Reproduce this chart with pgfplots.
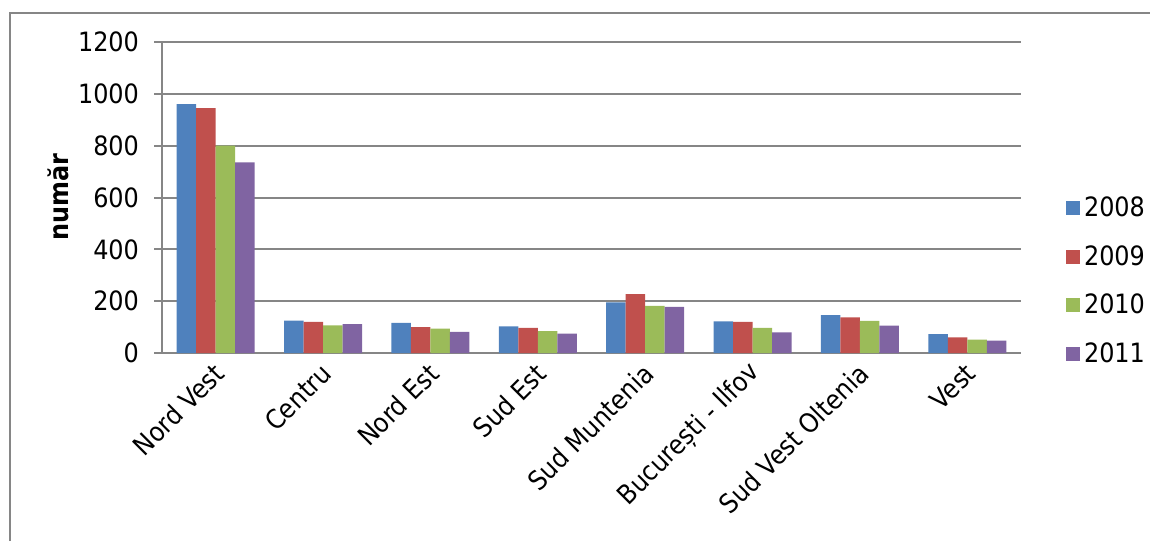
\documentclass[border=0pt]{standalone}
\usepackage{pgfplots}
\pgfplotsset{compat=1.18}
\usepackage{fontspec}
\setmainfont{DejaVu Sans Condensed}
\definecolor{c08}{HTML}{4F81BD}
\definecolor{c09}{HTML}{C0504D}
\definecolor{c10}{HTML}{9BBB59}
\definecolor{c11}{HTML}{8064A2}
\definecolor{gridc}{HTML}{868686}
\begin{document}
\begin{tikzpicture}
\path[use as bounding box] (0,0) rectangle (575pt,270.5pt);
\draw[gridc, line width=1pt] (5pt,0) -- (5pt,264pt) -- (575pt,264pt);
\begin{axis}[
  at={(81pt,94pt)}, anchor=south west,
  scale only axis, width=429.5pt, height=155.5pt,
  ybar=0pt, bar width=9.75pt,
  xmin=-0.5, xmax=7.5, ymin=0, ymax=1200,
  ytick={0,200,400,600,800,1000,1200},
  xtick={0,1,2,3,4,5,6,7},
  xticklabels={Nord Vest,Centru,Nord Est,Sud Est,Sud Muntenia,București - Ilfov,Sud Vest Oltenia,Vest},
  axis x line*=bottom, axis y line*=left,
  axis line style={gridc, line width=1pt, -},
  ymajorgrids, grid style={gridc, line width=1pt},
  tick align=outside, major tick length=4pt,
  ytick style={gridc, line width=1pt},
  xtick style={draw=none},
  font=\fontsize{13.3pt}{15pt}\selectfont,
  /pgf/number format/assume math mode=true,
  /pgf/number format/1000 sep={},
  yticklabel style={xshift=-4pt},
  xticklabel style={rotate=45, anchor=east, yshift=-4pt, xshift=2pt},
  ylabel={\bfseries număr},
  ylabel style={at={(axis description cs:-0.121,0.5)}, anchor=center, rotate=0},
  legend style={draw=none, fill=none, at={(axis description cs:1.045,0.2315)}, anchor=west, row sep=9pt, font=\fontsize{13.3pt}{15pt}\selectfont},
  legend cell align=left,
  legend image code/.code={\fill[#1] (0pt,-3.5pt) rectangle (7pt,3.5pt);},
]
\addplot[fill=c08, draw=none] coordinates {(0,960) (1,125) (2,116) (3,103) (4,195) (5,122) (6,146) (7,73)};
\addplot[fill=c09, draw=none] coordinates {(0,945) (1,120) (2,100) (3,97) (4,227) (5,120) (6,137) (7,60)};
\addplot[fill=c10, draw=none] coordinates {(0,800) (1,107) (2,94) (3,84) (4,182) (5,97) (6,124) (7,52)};
\addplot[fill=c11, draw=none] coordinates {(0,736) (1,111) (2,82) (3,75) (4,178) (5,80) (6,106) (7,48)};
\legend{2008,2009,2010,2011}
\end{axis}
\end{tikzpicture}
\end{document}
